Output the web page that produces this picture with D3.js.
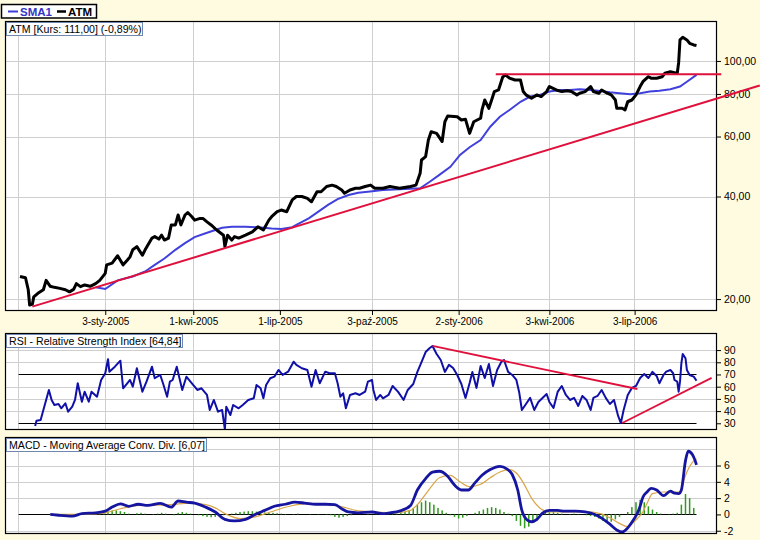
<!DOCTYPE html>
<html><head><meta charset="utf-8">
<script src="https://cdn.jsdelivr.net/npm/d3@7"></script>
<style>body{margin:0;background:#fffbe0;} svg{display:block;font-family:"Liberation Sans",Arial,sans-serif;}</style>
</head><body><svg id="c" width="760" height="540"></svg>
<script>
// ---- tick labels (trading-day index positions) ----
const dayTicks = [-1, 62, 126, 189, 256, 319, 385, 447];
const dayLabels = ["", "3-sty-2005", "1-kwi-2005", "1-lip-2005", "3-paź-2005", "2-sty-2006", "3-kwi-2006", "3-lip-2006"];
const priceTicks = [20, 40, 60, 80, 100];
const rsiTicks = [30, 40, 50, 60, 70, 80, 90];
const macdTicks = [-2, 0, 2, 4, 6];

// ---- ATM close ----
const priceDays = [0,4,6,7,9,10,13,17,19,22,25,29,33,36,39,41,44,47,51,55,58,62,63,67,71,75,78,80,82,85,89,91,96,98,101,103,105,108,110,113,115,117,120,122,125,127,131,133,136,139,143,148,149,151,154,156,159,164,169,173,177,181,183,187,190,194,198,201,205,209,212,216,219,223,227,230,234,236,240,244,247,251,255,258,264,269,276,284,288,291,292,295,297,299,303,307,309,311,318,321,324,327,330,335,336,338,341,343,345,348,351,353,356,360,364,366,368,372,376,379,383,385,390,394,398,401,405,407,411,415,417,421,423,427,430,433,434,438,440,442,445,448,451,453,457,459,463,467,469,473,476,478,479,480,482,485,487,490,492];
const priceValues = [23.3,23.1,21.3,19.2,19.3,20.3,20.8,21.3,22.7,21.8,21.65,21.5,21.3,21.0,21.35,22.2,21.75,22.0,21.8,22.2,22.7,23.8,25.2,25.5,26.8,25.2,26.0,26.6,27.9,28.5,26.9,27.9,30.2,30.5,30.0,30.8,29.8,30.2,33.0,33.0,35.3,33.0,35.3,35.9,34.9,34.1,34.5,34.5,33.7,33.0,31.9,30.8,28.5,30.8,29.8,30.5,30.2,30.8,31.5,32.6,31.9,34.1,34.9,36.1,36.5,36.1,39.1,40.0,40.0,39.5,38.6,41.3,41.3,42.8,43.2,42.8,41.8,40.9,41.8,42.3,42.3,42.8,43.2,42.3,42.3,42.8,42.3,42.8,43.2,46.8,51.2,52.4,58.6,62.0,61.3,58.0,66.3,68.9,68.6,67.1,67.4,61.3,66.3,67.9,71.8,76.8,72.6,76.8,81.3,82.2,89.6,91.0,89.0,87.9,87.9,81.3,79.5,77.7,79.5,78.6,81.3,84.1,82.2,81.3,81.8,81.3,79.5,80.4,81.3,84.1,81.3,80.4,82.2,80.4,79.5,76.8,72.6,72.6,71.8,75.9,76.8,79.5,84.1,86.9,89.9,89.0,89.0,89.9,92.0,93.0,92.4,92.0,98.7,115.3,117.4,115.3,112.7,111.4,111.0];

// ---- SMA1 ----
const smaDays = [55,62,71,82,91,98,105,113,120,127,135,142,147,154,164,173,183,190,198,202,210,217,224,231,239,246,253,264,276,291,298,305,313,320,327,335,342,349,356,364,371,378,385,393,400,407,415,422,429,436,444,451,458,465,473,480,485,492];
const smaValues = [21.65,21.4,22.7,23.3,24.1,25.2,26.3,27.9,29.2,30.4,31.2,31.9,32.4,32.6,32.6,32.5,32.2,32.1,32.5,33.2,34.5,36.1,37.8,39.3,40.4,41.0,41.3,41.8,42.0,42.3,44.2,46.3,48.9,53.0,55.8,58.6,64.1,68.6,71.8,75.9,78.6,79.5,81.3,82.2,82.2,82.6,82.2,81.6,80.9,80.4,79.8,80.4,81.3,81.8,82.6,84.1,86.9,91.0];

// ---- trend lines (day, value) ----
const priceTrend = [[9, 19.0], [538, 84.7]];
const priceResist = [[346, 91.4], [510, 91.4]];
const rsiTrendDown = [[300, 93.4], [449, 58.1]];
const rsiTrendUp = [[438, 30.2], [503, 67.2]];

// ---- RSI ----
const rsiDays = [11,12,15,17,19,21,23,25,28,30,33,35,38,40,42,45,47,50,52,56,59,62,64,65,69,73,75,78,80,82,85,89,92,96,98,102,104,107,109,111,114,118,121,125,129,132,136,138,141,144,147,149,150,153,155,159,162,166,170,172,175,177,179,182,185,188,191,195,199,201,205,209,212,215,218,222,225,229,231,233,235,237,240,244,247,251,253,256,257,259,262,264,268,271,275,279,282,286,289,292,295,298,300,303,306,309,312,315,318,321,324,327,329,332,335,338,341,344,347,350,352,355,358,361,363,365,368,371,374,377,380,383,385,388,391,394,397,400,403,406,409,412,415,417,420,423,426,429,432,435,437,439,442,445,448,451,454,457,460,463,465,468,470,473,475,476,478,479,480,481,482,484,485,487,490,492];
const rsiValues = [27.8,32.1,32.7,40.9,49.1,57.3,49.1,45.0,45.8,42.3,46.4,39.5,43.6,49.1,62.8,47.7,55.9,47.7,55.9,51.8,65.5,71.0,82.5,72.3,76.4,81.3,58.7,62.8,65.5,60.0,75.1,55.9,64.1,76.4,66.9,69.6,62.8,51.8,64.1,65.5,76.4,57.3,68.2,62.8,57.3,58.7,53.2,40.9,49.1,39.5,40.9,25.1,43.6,36.8,45.0,42.3,45.0,49.1,50.5,61.4,58.7,50.5,61.4,66.9,68.2,73.7,69.6,72.3,80.5,77.8,75.1,73.7,60.0,73.7,62.8,72.3,71.0,71.0,62.8,51.8,54.6,42.3,53.2,54.6,53.2,55.9,64.1,65.5,57.3,49.1,53.2,50.5,53.2,60.6,55.7,49.1,57.3,62.2,72.1,80.2,88.4,91.7,93.4,86.8,81.9,72.1,77.9,75.3,69.6,62.2,50.8,63.1,72.1,59.0,77.0,67.1,78.6,60.6,73.7,80.2,81.9,72.1,69.6,65.5,55.7,40.9,45.8,50.8,40.9,47.5,50.8,54.0,47.5,42.5,55.7,60.6,53.2,49.1,50.8,44.2,52.4,49.1,40.9,50.8,52.4,57.3,50.8,45.8,49.1,36.0,30.2,40.9,53.2,59.0,60.6,67.1,70.4,67.1,72.1,68.8,62.8,69.6,72.3,73.7,71.0,65.5,64.1,55.9,64.1,79.2,86.8,83.3,73.7,69.6,68.2,64.84];
const rsiLevels = [30, 70];

// ---- MACD ----
const macdDays = [22,28,38,45,55,62,67,73,79,86,93,102,110,115,121,127,135,142,149,156,164,171,178,185,193,200,207,215,222,229,234,239,246,256,264,269,276,284,289,295,300,305,311,316,321,326,331,336,342,349,354,358,362,365,369,372,376,380,385,391,396,404,411,418,423,429,434,438,442,446,449,451,453,456,459,463,468,473,476,479,481,484,486,489,491,492];
const macdValues = [0.0,-0.1,-0.2,0.1,0.2,0.4,0.9,1.3,1.0,1.25,1.1,1.35,0.9,1.65,1.5,1.4,0.9,0.3,-0.6,-0.8,-0.6,0.0,0.5,1.0,1.25,1.5,1.4,1.25,1.25,1.2,0.7,0.3,0.2,0.3,0.1,0.2,0.4,1.1,3.0,4.4,5.2,5.3,4.7,3.6,3.0,3.0,3.9,4.8,5.5,5.9,5.6,4.9,3.0,0.5,-0.7,-0.9,-0.6,0.15,0.5,0.5,0.4,0.4,0.3,0.0,-0.45,-1.2,-1.9,-2.15,-1.65,-0.7,0.15,1.0,2.1,2.75,3.2,3.0,2.3,2.85,2.6,2.55,3.0,6.6,7.75,7.35,6.6,6.07];
const signalDays = [22,44,62,73,87,109,124,135,142,149,160,171,182,196,211,233,244,258,273,284,289,295,300,305,313,320,327,335,342,349,356,362,367,372,378,385,396,411,422,429,436,442,446,449,453,456,460,468,475,480,482,485,489,492];
const signalValues = [0.0,0.0,0.2,0.7,1.1,1.2,1.4,1.2,0.8,0.1,-0.5,-0.3,0.3,1.0,1.35,1.0,0.5,0.3,0.2,0.5,1.2,2.5,3.6,4.5,4.8,4.0,3.4,3.7,4.5,5.2,5.5,4.9,3.6,2.0,0.8,0.3,0.3,0.35,0.1,-0.4,-1.1,-1.5,-1.0,-0.5,0.3,1.35,2.55,2.75,2.75,2.75,3.8,5.2,6.4,6.8];
const histStartDay = 22, histStepDays = 3;
const histValues = [0,0,0,-0.05,-0.1,-0.05,0,0.05,0.05,0.1,0.1,0.1,0.15,0.2,
0.4,0.5,0.5,0.4,0.3,
0.1,0,0.15,0.2,0.1,0,-0.05,0.1,0.2,0.1,0,-0.1,0.2,0.3,0.2,0.1,0,-0.1,-0.2,
-0.3,-0.35,-0.3,-0.2,-0.1,0,
0.1,0.2,0.3,0.35,0.4,0.4,0.35,0.3,0.25,0.2,0.2,0.15,0.1,0.05,0,0.05,0.1,0,
0,-0.05,0,0.05,0,-0.05,-0.1,-0.3,-0.4,-0.3,-0.2,-0.1,0,
0,0,0.05,0,-0.05,0,0,0.05,0.1,0.1,0.2,0.3,0.5,0.8,
1.2,1.5,1.7,1.5,1.2,0.8,0.5,0.2,
-0.1,-0.3,-0.5,-0.4,-0.2,0,
0.2,0.4,0.6,0.8,0.9,0.8,0.6,0.3,0.1,-0.2,
-0.8,-1.4,-1.7,-1.5,-1.0,-0.5,-0.1,
0.2,0.3,0.3,0.2,0.1,0,0.05,0.1,0.05,0,-0.1,-0.2,-0.3,
-0.5,-0.8,-1.0,-0.9,-0.6,-0.3,0,
0.3,0.9,1.5,1.8,1.5,1.0,0.6,0.3,0.1,0,0.05,0.1,
0.2,1.2,2.5,2.0,0.8];

// ---- texts ----
const titlePrice = "ATM [Kurs: 111,00] (-0,89%)";
const titleRsi = "RSI - Relative Strength Index [64,84]";
const titleMacd = "MACD - Moving Average Conv. Div. [6,07]";

// ================= drawing =================
const svg = d3.select("#c");
svg.append("rect").attr("width", 760).attr("height", 540).attr("fill", "#fffbe0");

const L = 5, R = 717;
const x = d3.scaleLinear().domain([0, 492]).range([20, 696.5]);
const yP = d3.scaleLog().domain([18.45, 131]).range([311, 21]);
const yR = d3.scaleLinear().domain([24.5, 104]).range([430, 333]);
const yM = d3.scaleLinear().domain([-2.4, 9.5]).range([534, 437]);

const GRID = "#cfcfcf";

function panel(id, y, ticks, fmt, gridVals, title, titleW) {
  const [bot, top] = y.range();
  svg.append("rect").attr("x", L).attr("y", top).attr("width", R - L).attr("height", bot - top).attr("fill", "#fff");
  svg.append("clipPath").attr("id", id).append("rect").attr("x", L).attr("y", top).attr("width", R - L).attr("height", bot - top);
  const g = svg.append("g");
  g.selectAll("line.v").data(dayTicks).join("line")
    .attr("x1", d => x(d)).attr("x2", d => x(d)).attr("y1", top).attr("y2", bot)
    .attr("stroke", GRID).attr("stroke-width", 1).attr("shape-rendering", "crispEdges");
  g.selectAll("line.h").data(gridVals).join("line")
    .attr("x1", L).attr("x2", R).attr("y1", d => Math.round(y(d)) + 0.5).attr("y2", d => Math.round(y(d)) + 0.5)
    .attr("stroke", GRID).attr("stroke-width", 1);
  const ax = d3.axisRight(y).tickValues(ticks).tickFormat(fmt).tickSize(4).tickPadding(3);
  const a = svg.append("g").attr("transform", `translate(${R},0)`).call(ax);
  a.select(".domain").remove();
  a.selectAll("line").attr("stroke", "#000");
  a.selectAll("text").attr("font-size", "10.5px").attr("fill", "#000").attr("font-family", "'Liberation Sans',Arial,sans-serif");
  const content = svg.append("g").attr("clip-path", `url(#${id})`);
  return {content, top, bot, title, titleW};
}
function finishPanel(p) {
  svg.append("rect").attr("x", L + 0.5).attr("y", p.top + 0.5).attr("width", R - L - 1).attr("height", p.bot - p.top - 1)
    .attr("fill", "none").attr("stroke", "#000").attr("stroke-width", 1.2);
  const t = svg.append("g");
  t.append("rect").attr("x", 6.5).attr("y", p.top + 1.5).attr("width", p.titleW).attr("height", 13)
    .attr("fill", "#fff").attr("stroke", "#7088b0").attr("stroke-width", 1);
  t.append("text").attr("x", 9).attr("y", p.top + 12).attr("font-size", "10.6px").attr("fill", "#000").text(p.title);
}

// ---- price panel ----
const pP = panel("cp", yP, priceTicks, d => d.toFixed(2).replace(".", ","), priceTicks, titlePrice, 136);
const lineP = (days, vals) => d3.line().x((d, i) => x(days[i])).y((d, i) => yP(vals[i]))(vals);
pP.content.append("path").attr("d", lineP(smaDays, smaValues)).attr("fill", "none").attr("stroke", "#4040dc").attr("stroke-width", 2);
pP.content.append("path").attr("d", lineP(priceDays, priceValues)).attr("fill", "none").attr("stroke", "#000").attr("stroke-width", 3).attr("stroke-linejoin", "round");
finishPanel(pP);
const segP = d3.line().x(d => x(d[0])).y(d => yP(d[1]));
svg.append("path").attr("d", segP(priceTrend)).attr("stroke", "#e0103c").attr("stroke-width", 2).attr("fill", "none");
svg.append("path").attr("d", segP(priceResist)).attr("stroke", "#e0103c").attr("stroke-width", 2).attr("fill", "none");

// x axis
const xa = d3.axisBottom(x).tickValues(dayTicks.slice(1)).tickFormat((d, i) => dayLabels[i + 1]).tickSize(4).tickPadding(3);
const xg = svg.append("g").attr("transform", "translate(0,311)").call(xa);
xg.select(".domain").remove();
xg.selectAll("line").attr("stroke", "#000");
xg.selectAll("text").attr("font-size", "10px").attr("fill", "#000").attr("font-family", "'Liberation Sans',Arial,sans-serif");

// ---- RSI panel ----
const pR = panel("cr", yR, rsiTicks, d => d, [40, 50, 60, 80, 90], titleRsi, 176);
pR.content.selectAll("line.lvl").data(rsiLevels).join("line")
  .attr("x1", x(dayTicks[0])).attr("x2", x(492)).attr("y1", d => Math.round(yR(d)) + 0.5).attr("y2", d => Math.round(yR(d)) + 0.5)
  .attr("stroke", "#000").attr("stroke-width", 1.2);
pR.content.append("path").attr("d", d3.line().x((d, i) => x(rsiDays[i])).y(d => yR(d))(rsiValues))
  .attr("fill", "none").attr("stroke", "#1010a8").attr("stroke-width", 2).attr("stroke-linejoin", "round");
const segR = d3.line().x(d => x(d[0])).y(d => yR(d[1]));
pR.content.append("path").attr("d", segR(rsiTrendDown)).attr("stroke", "#e0103c").attr("stroke-width", 1.8).attr("fill", "none");
pR.content.append("path").attr("d", segR(rsiTrendUp)).attr("stroke", "#e0103c").attr("stroke-width", 1.8).attr("fill", "none");
finishPanel(pR);

// ---- MACD panel ----
const pM = panel("cm", yM, macdTicks, d => d, [-2, 2, 4, 6, 8], titleMacd, 200);
pM.content.append("line").attr("x1", x(dayTicks[0])).attr("x2", x(492)).attr("y1", Math.round(yM(0)) + 0.5).attr("y2", Math.round(yM(0)) + 0.5)
  .attr("stroke", "#000").attr("stroke-width", 1.2);
pM.content.selectAll("rect.h").data(histValues).join("rect")
  .attr("x", (d, i) => x(histStartDay + i * histStepDays) - 0.75).attr("width", 1.5)
  .attr("y", d => Math.min(yM(d), yM(0))).attr("height", d => Math.abs(yM(d) - yM(0)))
  .attr("fill", "#2f9a1e");
pM.content.append("path").attr("d", d3.line().x((d, i) => x(signalDays[i])).y(d => yM(d)).curve(d3.curveMonotoneX)(signalValues))
  .attr("fill", "none").attr("stroke", "#d9a548").attr("stroke-width", 1.2);
pM.content.append("path").attr("d", d3.line().x((d, i) => x(macdDays[i])).y(d => yM(d)).curve(d3.curveMonotoneX)(macdValues))
  .attr("fill", "none").attr("stroke", "#1515a0").attr("stroke-width", 2.8).attr("stroke-linejoin", "round");
finishPanel(pM);

// ---- legend ----
const lg = svg.append("g");
lg.append("rect").attr("x", 1.5).attr("y", 4.5).attr("width", 95).attr("height", 13.5).attr("fill", "#fff").attr("stroke", "#000").attr("stroke-width", 1.5);
lg.append("line").attr("x1", 8).attr("x2", 18).attr("y1", 11.5).attr("y2", 11.5).attr("stroke", "#3c3cdc").attr("stroke-width", 2);
lg.append("text").attr("x", 20).attr("y", 15.5).attr("font-size", "11.5px").attr("font-weight", "bold").attr("fill", "#3434c8").text("SMA1");
lg.append("line").attr("x1", 57).attr("x2", 66).attr("y1", 11.5).attr("y2", 11.5).attr("stroke", "#000").attr("stroke-width", 2.5);
lg.append("text").attr("x", 68).attr("y", 15.5).attr("font-size", "11.5px").attr("font-weight", "bold").attr("fill", "#000").text("ATM");
</script></body></html>
